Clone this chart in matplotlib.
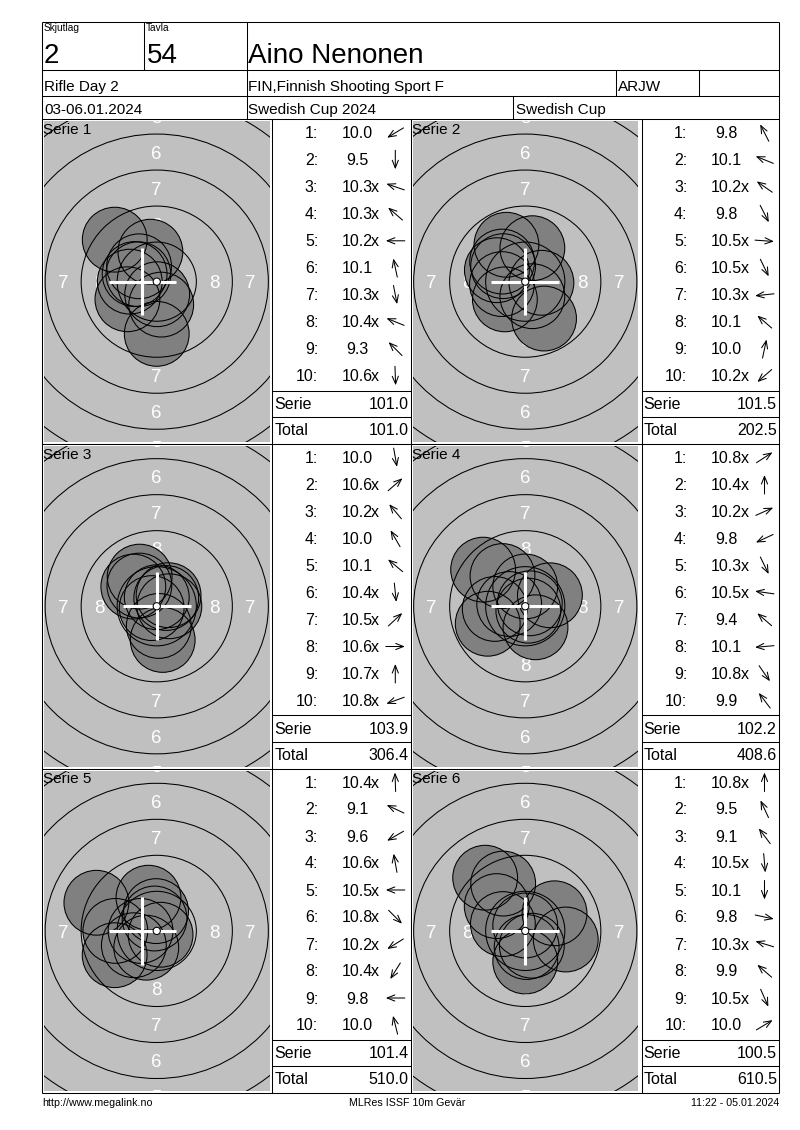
import numpy as np
import matplotlib
matplotlib.use("Agg")
import matplotlib.pyplot as plt
from matplotlib.patches import Circle

plt.rcParams['font.family'] = ['Liberation Sans', 'DejaVu Sans']

# ---------------- header / footer texts ----------------
round_label, round_value = "Skjutlag", "2"
lane_label, lane_value = "Tavla", "54"
shooter = "Aino Nenonen"
event = "Rifle Day 2"
club = "FIN,Finnish Shooting Sport F"
shooter_class = "ARJW"
dates = "03-06.01.2024"
competition = "Swedish Cup 2024"
cup = "Swedish Cup"
footer_left = "http://www.megalink.no"
footer_mid = "MLRes ISSF 10m Gevär"
footer_right = "11:22 - 05.01.2024"

series_names = ["Serie 1", "Serie 2", "Serie 3", "Serie 4", "Serie 5", "Serie 6"]

# ---------------- shot data (score, inner-ten flag, direction in degrees) ----------------
scores_1 = [10.0, 9.5, 10.3, 10.3, 10.2, 10.1, 10.3, 10.4, 9.3, 10.6]
inner_1 = [0, 0, 1, 1, 1, 0, 1, 1, 0, 1]
angles_1 = [211, 270, 161, 139, 180, 102, 281, 158, 135, 272]

scores_2 = [9.8, 10.1, 10.2, 9.8, 10.5, 10.5, 10.3, 10.1, 10.0, 10.2]
inner_2 = [0, 0, 1, 0, 1, 1, 1, 0, 0, 1]
angles_2 = [117, 158, 145, 297, 356, 296, 186, 139, 78, 221]

scores_3 = [10.0, 10.6, 10.2, 10.0, 10.1, 10.4, 10.5, 10.6, 10.7, 10.8]
inner_3 = [0, 1, 1, 0, 0, 1, 1, 1, 1, 1]
angles_3 = [280, 41, 130, 120, 140, 276, 43, 0, 90, 200]

scores_4 = [10.8, 10.4, 10.2, 9.8, 10.3, 10.5, 9.4, 10.1, 10.8, 9.9]
inner_4 = [1, 1, 1, 0, 1, 1, 0, 0, 1, 0]
angles_4 = [33, 90, 24, 205, 296, 172, 139, 185, 305, 127]

scores_5 = [10.4, 9.1, 9.6, 10.6, 10.5, 10.8, 10.2, 10.4, 9.8, 10.0]
inner_5 = [1, 0, 0, 1, 1, 1, 1, 1, 0, 0]
angles_5 = [92, 155, 210, 100, 180, 315, 212, 238, 180, 104]

scores_6 = [10.8, 9.5, 9.1, 10.5, 10.1, 9.8, 10.3, 9.9, 10.5, 10.0]
inner_6 = [1, 0, 0, 1, 0, 0, 1, 0, 1, 0]
angles_6 = [90, 115, 127, 275, 270, 348, 163, 139, 294, 31]

# white cross position (mm) read from each target
cross_x = [-1.0, 0.0, 0.0, 0.0, -1.0, 0.0]
cross_y = [0.0, 0.0, 0.0, 0.0, 0.0, 0.0]

ring_numbers = [1, 2, 3, 4, 5, 6, 7, 8, 9]
label_numbers = [1, 2, 3, 4, 5, 6, 7, 8]

all_scores = [scores_1, scores_2, scores_3, scores_4, scores_5, scores_6]
all_inner = [inner_1, inner_2, inner_3, inner_4, inner_5, inner_6]
all_angles = [angles_1, angles_2, angles_3, angles_4, angles_5, angles_6]

# ---------------- geometry (ISSF 10 m air rifle, mm) ----------------
def ring_radius(k):
    return 0.25 + (10 - k) * 2.5

PELLET_R = 2.25
PX_PER_MM = 14.4

W, H = 800, 1130
fig = plt.figure(figsize=(W / 100, H / 100), dpi=100)

LEFT, RIGHT = 42.0, 779.3
TOP = 21.7
ROW_TOPS = [119.3, 444.0, 768.5, 1093.3]
GREY_X = [(44.0, 269.5), (412.5, 638.0)]
LIST_X = [(272.3, 411.0), (641.5, 779.3)]

LW = 0.75
GREY = '#C0C0C0'
SHOT = '#808080'
LABEL_FS = 13.5

for i in range(6):
    row, col = divmod(i, 2)
    x0, x1 = GREY_X[col]
    y0, y1 = ROW_TOPS[row] + 2, ROW_TOPS[row + 1] - 2
    ax = fig.add_axes([x0 / W, 1 - y1 / H, (x1 - x0) / W, (y1 - y0) / H])
    hx = (x1 - x0) / 2 / PX_PER_MM
    hy = (y1 - y0) / 2 / PX_PER_MM
    ax.set_xlim(-hx, hx)
    ax.set_ylim(-hy, hy)
    ax.set_facecolor(GREY)
    ax.set_xticks([]); ax.set_yticks([])
    for s in ax.spines.values():
        s.set_visible(False)

    # ring numbers (under the shots); only those that reach into the panel
    cap = LABEL_FS * 100 / 72 * 0.716 / PX_PER_MM
    for k in label_numbers:
        r = (ring_radius(k) + ring_radius(k + 1)) / 2
        for (px, py) in [(r, 0), (-r, 0), (0, r), (0, -r)]:
            if abs(px) - 0.3 > hx or abs(py) - cap / 2 - 0.1 > hy:
                continue
            ax.text(px, py - cap / 2, str(k), color='white', fontsize=LABEL_FS,
                    ha='center', va='baseline', clip_on=True, zorder=1)

    sc = np.array(all_scores[i])
    ang = np.radians(all_angles[i])
    d = np.clip((10.95 - sc) * 2.5, 0, None)
    xs, ys = d * np.cos(ang), d * np.sin(ang)
    for x, y in zip(xs, ys):
        ax.add_patch(Circle((x, y), PELLET_R, fc=SHOT, ec='none', zorder=2))
    for x, y in zip(xs, ys):
        ax.add_patch(Circle((x, y), PELLET_R, fill=False, ec='black', lw=LW, zorder=3))

    for k in ring_numbers:
        ax.add_patch(Circle((0, 0), ring_radius(k), fill=False, ec='black', lw=LW, zorder=4))

    arm = 2.35
    cx, cy = cross_x[i], cross_y[i]
    ax.plot([cx - arm, cx + arm], [cy, cy], color='white', lw=2.2, solid_capstyle='butt', zorder=5)
    ax.plot([cx, cx], [cy - arm, cy + arm], color='white', lw=2.2, solid_capstyle='butt', zorder=5)
    ax.add_patch(Circle((0, 0), ring_radius(10), fc='white', ec='black', lw=LW, zorder=6))

# ---------------- overlay for table, lists and texts ----------------
lay = fig.add_axes([0, 0, 1, 1])
lay.set_xlim(0, W)
lay.set_ylim(H, 0)
lay.axis('off')

def hline(y, xa=LEFT, xb=RIGHT):
    lay.plot([xa, xb], [y, y], color='black', lw=LW, solid_capstyle='butt')

def vline(x, ya, yb):
    lay.plot([x, x], [ya, yb], color='black', lw=LW, solid_capstyle='butt')

# outer frame and header grid
hline(TOP); hline(70.3); hline(95.7)
for y in ROW_TOPS:
    hline(y)
vline(LEFT, TOP, ROW_TOPS[-1]); vline(RIGHT, TOP, ROW_TOPS[-1])
vline(144.0, TOP, 70.3)
vline(246.5, TOP, ROW_TOPS[0])
vline(616.3, 70.3, 95.7); vline(698.7, 70.3, 95.7)
vline(513.3, 95.7, ROW_TOPS[0])
for x in [272.3, 411.0, 641.5]:
    vline(x, ROW_TOPS[0], ROW_TOPS[-1])

lay.text(44, 31, round_label, fontsize=7.3, va='baseline')
lay.text(146, 31, lane_label, fontsize=7.3, va='baseline')
lay.text(44, 63.3, round_value, fontsize=20, va='baseline')
lay.text(146.5, 63.3, lane_value, fontsize=20, va='baseline')
lay.text(248, 63.3, shooter, fontsize=20, va='baseline')
lay.text(44, 91, event, fontsize=11, va='baseline')
lay.text(248.5, 91, club, fontsize=11, va='baseline')
lay.text(618, 91, shooter_class, fontsize=11, va='baseline')
lay.text(44, 114.3, dates, fontsize=11, va='baseline')
lay.text(248.5, 114.3, competition, fontsize=11, va='baseline')
lay.text(515.5, 114.3, cup, fontsize=11, va='baseline')

lay.text(LEFT, 1106, footer_left, fontsize=7.7, va='baseline')
lay.text(407.5, 1106, footer_mid, fontsize=7.7, va='baseline', ha='center')
lay.text(RIGHT, 1106, footer_right, fontsize=7.7, va='baseline', ha='right')

running = 0.0
for i in range(6):
    row, col = divmod(i, 2)
    T = ROW_TOPS[row]
    L, R = LIST_X[col]
    gx0 = GREY_X[col][0]
    lay.text(gx0 - 1, T + 14.7, series_names[i], fontsize=11, va='baseline')
    for j, (s, inn, a) in enumerate(zip(all_scores[i], all_inner[i], all_angles[i])):
        yb = T + 19 + 27 * j
        lay.text(L + 46, yb, f"{j + 1}:", fontsize=11.5, ha='right', va='baseline')
        lay.text(L + 85, yb, f"{s:.1f}", fontsize=11.5, ha='center', va='baseline')
        if inn:
            lay.text(L + 99, yb, "x", fontsize=11.5, ha='left', va='baseline')
        th = np.radians(a)
        cxp, cyp = L + 123, yb - 5.5
        dx, dy = 9.5 * np.cos(th), -9.5 * np.sin(th)
        lay.annotate("", xy=(cxp + dx, cyp + dy), xytext=(cxp - dx, cyp - dy),
                     arrowprops=dict(arrowstyle="->,head_length=0.55,head_width=0.22",
                                     lw=0.75, color='black', shrinkA=0, shrinkB=0,
                                     mutation_scale=10))
    serie = round(sum(all_scores[i]), 1)
    running = round(running + serie, 1)
    hline(T + 271.3, L, R)
    hline(T + 297.7, L, R)
    lay.text(L + 2, T + 289.7, "Serie", fontsize=11.5, va='baseline')
    lay.text(R - 2.5, T + 289.7, f"{serie:.1f}", fontsize=11.5, va='baseline', ha='right')
    lay.text(L + 2, T + 315.7, "Total", fontsize=11.5, va='baseline')
    lay.text(R - 2.5, T + 315.7, f"{running:.1f}", fontsize=11.5, va='baseline', ha='right')

fig.savefig("out.png", dpi=100)
